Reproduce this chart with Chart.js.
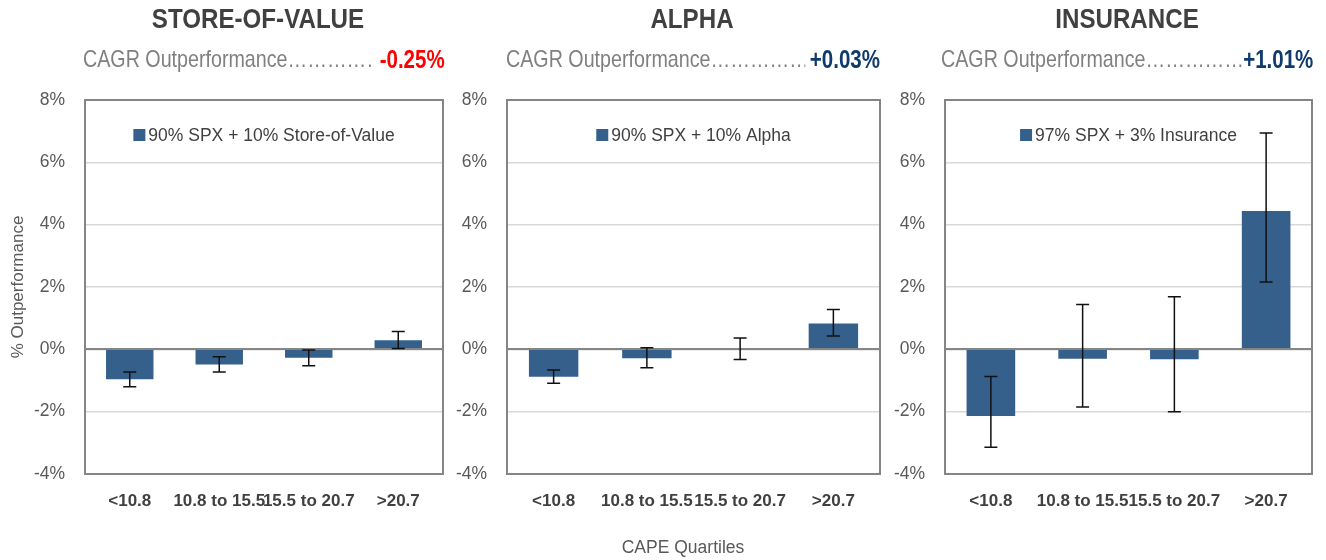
<!DOCTYPE html>
<html>
<head>
<meta charset="utf-8">
<script src="https://cdn.jsdelivr.net/npm/chart.js@4.4.1/dist/chart.umd.min.js"></script>
<style>
  html, body { margin: 0; padding: 0; background: #ffffff; }
  #wrap { position: relative; width: 1326px; height: 560px; overflow: hidden; font-family: "Liberation Sans", Arial, sans-serif; }
  canvas { position: absolute; top: 0; }
  /* condensed look for the headings */
  .ttl { position: absolute; top: 5px; font-family: "Liberation Sans", Arial, sans-serif; font-weight: bold; font-size: 28px; line-height: 28px; color: #404040; transform: translateX(-50%) scaleX(0.862); white-space: nowrap; }
  .sub { position: absolute; top: 47px; display: flex; transform-origin: 0 0; transform: scaleX(0.82); font-family: "Liberation Sans", Arial, sans-serif; font-size: 24px; line-height: 24px; color: #808080; white-space: nowrap; }
  .sub .dots { flex: 1; overflow: hidden; }
  .sub .val { font-weight: bold; font-size: 25px; }
  .xttl { position: absolute; top: 537px; left: 683px; transform: translateX(-50%); font-size: 17.5px; line-height: 20px; color: #595959; white-space: nowrap; }
</style>
</head>
<body>
<div id="wrap">
  <canvas id="c1" width="450" height="560" style="left:0px"></canvas>
  <canvas id="c2" width="440" height="560" style="left:450px"></canvas>
  <canvas id="c3" width="436" height="560" style="left:890px"></canvas>

  <div class="ttl" style="left:258px">STORE-OF-VALUE</div>
  <div class="ttl" style="left:692px">ALPHA</div>
  <div class="ttl" style="left:1127px">INSURANCE</div>

  <div class="sub" style="left:83px;width:441px"><span>CAGR Outperformance</span><span class="dots">……………………………………</span><span class="val" style="color:#ff0000;padding-left:8px">-0.25%</span></div>
  <div class="sub" style="left:506px;width:456px"><span>CAGR Outperformance</span><span class="dots">……………………………………</span><span class="val" style="color:#0e3a6c;padding-left:6px">+0.03%</span></div>
  <div class="sub" style="left:941px;width:454px"><span>CAGR Outperformance</span><span class="dots">……………………………………</span><span class="val" style="color:#0e3a6c">+1.01%</span></div>

  <div class="xttl">CAPE Quartiles</div>
</div>
<script>
// CAPE valuation quartiles shared by all three panels
const categories = ['<10.8', '10.8 to 15.5', '15.5 to 20.7', '>20.7'];

// Store-of-value blend: mean outperformance (%) and error-bar ends
const storeValues  = [-0.96, -0.49, -0.27, 0.29];
const storeErrLow  = [-1.20, -0.73, -0.53, 0.03];
const storeErrHigh = [-0.73, -0.24, -0.02, 0.57];

// Alpha blend
const alphaValues  = [-0.88, -0.29, 0.00, 0.83];
const alphaErrLow  = [-1.09, -0.59, -0.33, 0.43];
const alphaErrHigh = [-0.66, 0.05, 0.36, 1.28];

// Insurance blend
const insValues  = [-2.14, -0.30, -0.32, 4.44];
const insErrLow  = [-3.14, -1.85, -2.00, 2.16];
const insErrHigh = [-0.87, 1.44, 1.69, 6.94];

// Series names
const seriesLabels = ['90% SPX + 10% Store-of-Value', '90% SPX + 10% Alpha', '97% SPX + 3% Insurance'];

// Y-axis range (%)
const yMin = -4, yMax = 8, yStep = 2;

const BAR_COLOR = '#36608c';
const AXIS_GRAY = '#858585';
const FONT = '"Liberation Sans", Arial, sans-serif';

// Draws the zero line, plot frame, error bars and the in-plot legend
const overlay = {
  id: 'overlay',
  afterDatasetsDraw(chart) {
    const { ctx, chartArea: a, scales: { y } } = chart;
    const ds = chart.data.datasets[0];
    const meta = chart.getDatasetMeta(0);
    ctx.save();

    // zero line over the bars
    const y0 = Math.round(y.getPixelForValue(0));
    ctx.strokeStyle = AXIS_GRAY;
    ctx.lineWidth = 2;
    ctx.beginPath();
    ctx.moveTo(a.left, y0);
    ctx.lineTo(a.right, y0);
    ctx.stroke();

    // frame
    ctx.strokeRect(a.left, a.top, a.right - a.left, a.bottom - a.top);

    // error bars
    ctx.strokeStyle = '#111111';
    ctx.lineWidth = 1.5;
    const cap = 6.5;
    meta.data.forEach((bar, i) => {
      const yl = y.getPixelForValue(ds.errLow[i]);
      const yh = y.getPixelForValue(ds.errHigh[i]);
      ctx.beginPath();
      ctx.moveTo(bar.x, yl); ctx.lineTo(bar.x, yh);
      ctx.moveTo(bar.x - cap, yl); ctx.lineTo(bar.x + cap, yl);
      ctx.moveTo(bar.x - cap, yh); ctx.lineTo(bar.x + cap, yh);
      ctx.stroke();
    });

    // legend inside the plot
    ctx.font = '17.5px ' + FONT;
    const tw = ctx.measureText(ds.label).width;
    const box = 12, gap = 3;
    const x0 = (a.left + a.right) / 2 - (box + gap + tw) / 2;
    const ly = a.top + 35;
    ctx.fillStyle = ds.backgroundColor;
    ctx.fillRect(x0, ly - 6, box, box);
    ctx.fillStyle = '#404040';
    ctx.textBaseline = 'middle';
    ctx.textAlign = 'left';
    ctx.fillText(ds.label, x0 + box + gap, ly + 1);
    ctx.restore();
  }
};

function makeChart(id, label, values, lo, hi, axisWidth, padRight, showTitle) {
  return new Chart(document.getElementById(id), {
    type: 'bar',
    data: {
      labels: categories,
      datasets: [{
        label: label,
        data: values,
        errLow: lo,
        errHigh: hi,
        backgroundColor: BAR_COLOR,
        borderWidth: 0,
        barPercentage: 0.53,
        categoryPercentage: 1
      }]
    },
    options: {
      responsive: false,
      animation: false,
      layout: { padding: { top: 100, bottom: 46, left: 0, right: padRight } },
      plugins: { legend: { display: false }, tooltip: { enabled: false } },
      scales: {
        x: {
          grid: { display: false },
          border: { display: false },
          ticks: {
            autoSkip: false, maxRotation: 0, minRotation: 0, padding: 9,
            color: '#404040', font: { family: FONT, size: 17, weight: 'bold' }
          },
          afterFit(axis) { axis.height = 40; }
        },
        y: {
          min: yMin, max: yMax,
          ticks: {
            stepSize: yStep, padding: 20,
            color: '#595959', font: { family: FONT, size: 17.5 },
            callback: v => v + '%'
          },
          grid: { drawTicks: false, color: '#d9d9d9', lineWidth: 1.5 },
          border: { display: false },
          title: {
            display: showTitle, text: '% Outperformance',
            color: '#595959', font: { family: FONT, size: 17 },
            padding: { top: 8, bottom: 0 }
          },
          afterFit(axis) { axis.width = axisWidth; }
        }
      }
    },
    plugins: [overlay]
  });
}

makeChart('c1', seriesLabels[0], storeValues, storeErrLow, storeErrHigh, 85, 7, true);
makeChart('c2', seriesLabels[1], alphaValues, alphaErrLow, alphaErrHigh, 57, 10, false);
makeChart('c3', seriesLabels[2], insValues, insErrLow, insErrHigh, 55, 14, false);
</script>
</body>
</html>
